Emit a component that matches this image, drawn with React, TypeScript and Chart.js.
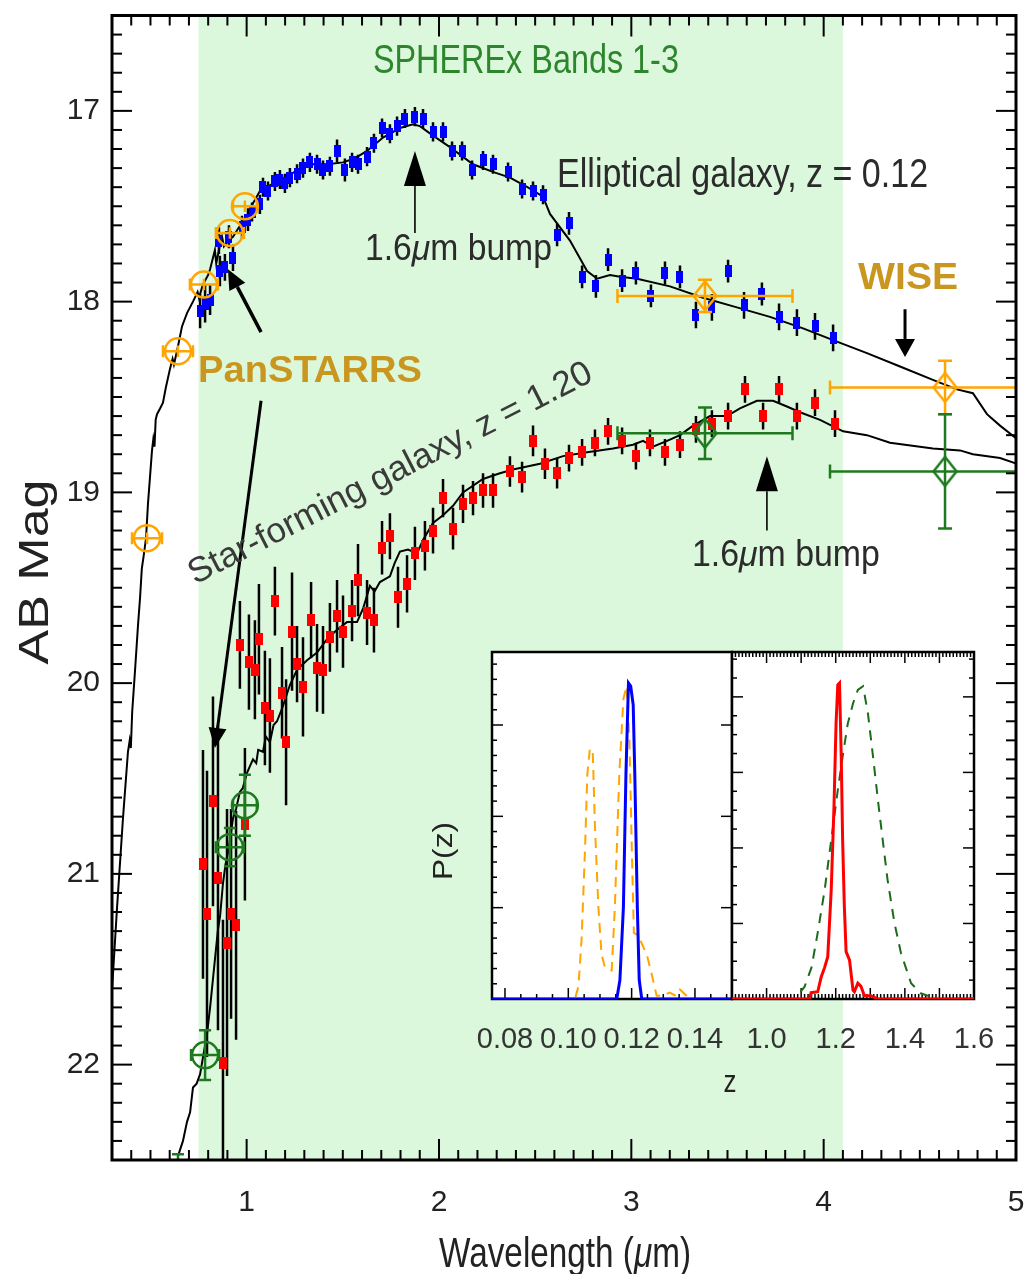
import React, { useEffect, useRef } from 'react';
import { Chart, registerables } from 'chart.js';

Chart.register(...registerables);

// ---------------------------------------------------------------- axes
const wavelengthTicks = [1, 2, 3, 4, 5];
const magnitudeTicks = [17, 18, 19, 20, 21, 22];
const sphereXRange = [0.75, 4.1];

// ---------------------------------------------------------------- model SEDs
const ellipticalModelLambda = [0.300, 0.326, 0.357, 0.383, 0.392, 0.398, 0.405, 0.420, 0.435, 0.446, 0.455, 0.465, 0.477, 0.487, 0.508, 0.515, 0.521, 0.527, 0.534, 0.550, 0.565, 0.580, 0.602, 0.615, 0.622, 0.640, 0.650, 0.664, 0.690, 0.721, 0.745, 0.752, 0.773, 0.800, 0.810, 0.825, 0.835, 0.842, 0.862, 0.872, 0.882, 0.905, 0.929, 0.960, 1.002, 1.030, 1.069, 1.158, 1.250, 1.329, 1.420, 1.501, 1.560, 1.626, 1.709, 1.797, 1.865, 1.901, 1.969, 2.057, 2.177, 2.280, 2.369, 2.460, 2.541, 2.577, 2.681, 2.770, 2.822, 2.889, 2.941, 3.030, 3.201, 3.373, 3.549, 3.721, 3.893, 4.069, 4.225, 4.397, 4.568, 4.693, 4.776, 4.849, 4.917, 5.005];
const ellipticalModelMag = [21.61, 21.18, 20.71, 20.36, 20.30, 20.34, 20.15, 19.93, 19.70, 19.55, 19.40, 19.33, 19.24, 19.06, 18.78, 18.72, 18.76, 18.62, 18.59, 18.56, 18.53, 18.45, 18.35, 18.30, 18.33, 18.25, 18.20, 18.13, 18.06, 18.00, 17.95, 17.98, 17.91, 17.86, 17.83, 17.77, 17.73, 17.80, 17.70, 17.66, 17.71, 17.68, 17.66, 17.61, 17.56, 17.49, 17.42, 17.37, 17.32, 17.28, 17.28, 17.27, 17.25, 17.21, 17.14, 17.09, 17.07, 17.08, 17.13, 17.19, 17.28, 17.32, 17.35, 17.40, 17.45, 17.54, 17.68, 17.84, 17.88, 17.86, 17.87, 17.88, 17.92, 17.98, 18.03, 18.08, 18.14, 18.21, 18.27, 18.34, 18.41, 18.46, 18.48, 18.59, 18.65, 18.72];

const starFormingModelLambda = [0.643, 0.669, 0.690, 0.706, 0.721, 0.740, 0.758, 0.775, 0.794, 0.810, 0.836, 0.850, 0.862, 0.877, 0.890, 0.905, 0.929, 0.945, 0.965, 0.980, 1.002, 1.015, 1.033, 1.050, 1.060, 1.085, 1.100, 1.121, 1.140, 1.158, 1.189, 1.225, 1.262, 1.314, 1.366, 1.418, 1.470, 1.522, 1.574, 1.605, 1.641, 1.665, 1.693, 1.745, 1.770, 1.797, 1.839, 1.886, 1.917, 1.969, 2.021, 2.073, 2.125, 2.229, 2.317, 2.385, 2.525, 2.645, 2.770, 2.905, 3.009, 3.061, 3.113, 3.186, 3.253, 3.321, 3.409, 3.497, 3.565, 3.653, 3.737, 3.809, 3.877, 3.981, 4.101, 4.225, 4.345, 4.568, 4.709, 4.776, 4.917, 5.005];
const starFormingModelMag = [22.48, 22.40, 22.30, 22.25, 22.12, 22.10, 22.05, 21.95, 21.84, 21.70, 21.44, 21.30, 21.22, 21.05, 20.95, 20.88, 20.71, 20.66, 20.57, 20.55, 20.47, 20.44, 20.40, 20.42, 20.35, 20.36, 20.28, 20.31, 20.22, 20.20, 20.12, 20.01, 19.93, 19.88, 19.84, 19.77, 19.72, 19.68, 19.68, 19.61, 19.49, 19.52, 19.47, 19.44, 19.37, 19.31, 19.30, 19.32, 19.25, 19.16, 19.12, 19.07, 19.00, 18.93, 18.90, 18.88, 18.85, 18.81, 18.79, 18.77, 18.75, 18.73, 18.76, 18.73, 18.70, 18.65, 18.60, 18.60, 18.56, 18.52, 18.52, 18.55, 18.58, 18.62, 18.68, 18.70, 18.74, 18.77, 18.78, 18.80, 18.82, 18.85];

// ---------------------------------------------------------------- SPHEREx photometry
const ellipticalLambda = [0.758, 0.784, 0.810, 0.856, 0.861, 0.887, 0.908, 0.929, 0.976, 1.007, 1.028, 1.069, 1.085, 1.111, 1.147, 1.173, 1.199, 1.225, 1.262, 1.293, 1.329, 1.366, 1.397, 1.433, 1.470, 1.511, 1.548, 1.579, 1.626, 1.662, 1.704, 1.745, 1.782, 1.823, 1.875, 1.917, 1.969, 2.021, 2.068, 2.120, 2.172, 2.229, 2.281, 2.359, 2.432, 2.489, 2.541, 2.614, 2.676, 2.744, 2.816, 2.879, 2.952, 3.024, 3.102, 3.175, 3.253, 3.336, 3.419, 3.503, 3.586, 3.679, 3.768, 3.861, 3.955, 4.049];
const ellipticalMag = [18.05, 18.01, 17.99, 17.68, 17.84, 17.82, 17.66, 17.77, 17.61, 17.57, 17.53, 17.49, 17.40, 17.42, 17.37, 17.36, 17.38, 17.35, 17.33, 17.30, 17.27, 17.28, 17.31, 17.29, 17.21, 17.31, 17.27, 17.28, 17.24, 17.17, 17.09, 17.12, 17.08, 17.04, 17.03, 17.04, 17.11, 17.11, 17.21, 17.21, 17.31, 17.26, 17.28, 17.32, 17.41, 17.42, 17.44, 17.65, 17.59, 17.87, 17.92, 17.78, 17.89, 17.85, 17.97, 17.85, 17.87, 18.07, 18.03, 17.84, 18.02, 17.96, 18.08, 18.11, 18.13, 18.19];
const ellipticalErr = [0.09, 0.10, 0.08, 0.07, 0.08, 0.07, 0.06, 0.07, 0.06, 0.06, 0.05, 0.05, 0.05, 0.05, 0.05, 0.05, 0.05, 0.05, 0.05, 0.05, 0.05, 0.05, 0.05, 0.05, 0.06, 0.06, 0.05, 0.05, 0.05, 0.05, 0.05, 0.05, 0.05, 0.05, 0.05, 0.05, 0.05, 0.05, 0.05, 0.05, 0.05, 0.05, 0.05, 0.05, 0.05, 0.05, 0.05, 0.06, 0.06, 0.06, 0.06, 0.06, 0.06, 0.06, 0.06, 0.06, 0.06, 0.07, 0.07, 0.06, 0.07, 0.06, 0.07, 0.07, 0.07, 0.07];

const starFormingLambda = [0.773, 0.794, 0.825, 0.851, 0.877, 0.898, 0.919, 0.945, 0.965, 0.991, 1.012, 1.043, 1.064, 1.095, 1.121, 1.147, 1.184, 1.205, 1.236, 1.262, 1.293, 1.335, 1.366, 1.397, 1.433, 1.470, 1.501, 1.548, 1.579, 1.626, 1.662, 1.704, 1.745, 1.787, 1.834, 1.875, 1.927, 1.969, 2.021, 2.073, 2.125, 2.177, 2.229, 2.281, 2.369, 2.432, 2.489, 2.551, 2.614, 2.676, 2.744, 2.811, 2.879, 2.952, 3.024, 3.097, 3.175, 3.253, 3.336, 3.419, 3.503, 3.591, 3.685, 3.768, 3.861, 3.955, 4.059];
const starFormingMag = [20.95, 21.21, 20.62, 21.02, 21.99, 21.36, 21.21, 21.27, 19.80, 20.74, 19.89, 19.93, 19.77, 20.13, 20.17, 19.57, 20.05, 20.31, 19.73, 19.90, 20.02, 19.67, 19.92, 19.93, 19.76, 19.65, 19.73, 19.62, 19.46, 19.63, 19.67, 19.29, 19.23, 19.55, 19.48, 19.32, 19.28, 19.20, 19.03, 19.19, 19.06, 19.03, 18.99, 18.99, 18.89, 18.92, 18.73, 18.85, 18.90, 18.82, 18.79, 18.74, 18.68, 18.73, 18.81, 18.74, 18.79, 18.75, 18.67, 18.64, 18.60, 18.46, 18.60, 18.46, 18.60, 18.53, 18.64];
const starFormingErr = [0.60, 0.75, 0.55, 0.80, 0.75, 0.70, 0.55, 0.60, 0.23, 0.40, 0.25, 0.26, 0.29, 0.30, 0.30, 0.18, 0.24, 0.33, 0.31, 0.20, 0.26, 0.20, 0.23, 0.23, 0.18, 0.19, 0.19, 0.16, 0.19, 0.17, 0.17, 0.14, 0.12, 0.16, 0.15, 0.14, 0.13, 0.12, 0.10, 0.11, 0.10, 0.09, 0.09, 0.09, 0.08, 0.08, 0.08, 0.08, 0.08, 0.07, 0.07, 0.07, 0.07, 0.07, 0.07, 0.07, 0.07, 0.07, 0.07, 0.07, 0.07, 0.07, 0.07, 0.07, 0.07, 0.07, 0.07];

// ---------------------------------------------------------------- PanSTARRS and WISE photometry
const panstarrsEllLambda = [0.482, 0.643, 0.778, 0.913, 0.991];
const panstarrsEllMag = [19.24, 18.26, 17.91, 17.64, 17.50];
const panstarrsEllLambdaErr = [0.078, 0.078, 0.073, 0.073, 0.062];
const panstarrsEllMagErr = [0.03, 0.03, 0.03, 0.03, 0.03];

const panstarrsSfLambda = [0.643, 0.784, 0.913, 0.991];
const panstarrsSfMag = [22.95, 21.95, 20.86, 20.64];
const panstarrsSfLambdaErr = [0.078, 0.073, 0.073, 0.062];
const panstarrsSfMagErr = [0.48, 0.13, 0.10, 0.16];

const wiseLambda = [3.383, 4.631];
const wiseLambdaErr = [0.455, 0.598];
const wiseEllMag = [17.97, 18.45];
const wiseEllErr = [0.085, 0.14];
const wiseSfMag = [18.69, 18.89];
const wiseSfErr = [0.135, 0.30];

// ---------------------------------------------------------------- redshift PDFs (inset)
const ellZTicks = [0.08, 0.10, 0.12, 0.14];
const sfZTicks = [1.0, 1.2, 1.4, 1.6];

const ellSpherexZ = [0.0759, 0.1153, 0.1163, 0.1174, 0.1182, 0.1190, 0.1197, 0.1205, 0.1210, 0.1218, 0.1224, 0.1232, 0.1517];
const ellSpherexP = [0, 0, 0.06, 0.29, 0.71, 1.0, 0.99, 0.93, 0.71, 0.29, 0.06, 0, 0];
const ellBroadbandZ = [0.0759, 0.1021, 0.1032, 0.1042, 0.1053, 0.1060, 0.1068, 0.1077, 0.1084, 0.1095, 0.1105, 0.1116, 0.1137, 0.1147, 0.1161, 0.1174, 0.1184, 0.1193, 0.1200, 0.1207, 0.1221, 0.1248, 0.1263, 0.1279, 0.1295, 0.1320, 0.1340, 0.1353, 0.1384, 0.1517];
const ellBroadbandP = [0, 0, 0.04, 0.19, 0.48, 0.71, 0.79, 0.79, 0.55, 0.29, 0.14, 0.10, 0.09, 0.29, 0.71, 0.95, 0.99, 0.82, 0.50, 0.21, 0.20, 0.14, 0.08, 0.01, 0.01, 0.02, 0.01, 0.03, 0, 0];

const sfSpherexZ = [0.9, 1.124, 1.129, 1.148, 1.158, 1.168, 1.177, 1.187, 1.195, 1.201, 1.206, 1.211, 1.216, 1.220, 1.225, 1.230, 1.240, 1.250, 1.254, 1.264, 1.273, 1.283, 1.302, 1.322, 1.6];
const sfSpherexP = [0, 0, 0.02, 0.023, 0.07, 0.10, 0.134, 0.345, 0.609, 0.872, 0.994, 1.0, 0.767, 0.503, 0.292, 0.15, 0.123, 0.028, 0.023, 0.05, 0.04, 0.01, 0.01, 0, 0];
const sfBroadbandZ = [0.9, 1.082, 1.110, 1.130, 1.148, 1.168, 1.187, 1.206, 1.220, 1.235, 1.250, 1.264, 1.279, 1.293, 1.308, 1.322, 1.336, 1.350, 1.370, 1.389, 1.418, 1.446, 1.475, 1.494, 1.6];
const sfBroadbandP = [0, 0, 0.039, 0.10, 0.21, 0.345, 0.503, 0.661, 0.767, 0.872, 0.935, 0.978, 0.99, 0.905, 0.767, 0.63, 0.503, 0.377, 0.24, 0.144, 0.05, 0.018, 0.007, 0, 0];

// ---------------------------------------------------------------- styling
const FONT = "'Liberation Sans', Arial, Helvetica, sans-serif";
const BAND_GREEN = '#dcf8dc';
const ORANGE = '#ffa500';
const DARK_GREEN = '#1f7a1f';
const GOLD = '#c9971f';
const TEXT_GRAY = '#2b2b2b';

const toPoints = (xs: number[], ys: number[]) => xs.map((x, i) => ({ x, y: ys[i] }));

function solidRect(w: number, h: number, color: string) {
  const c = document.createElement('canvas');
  c.width = w;
  c.height = h;
  const g = c.getContext('2d')!;
  g.fillStyle = color;
  g.fillRect(0, 0, w, h);
  return c;
}

function openDiamond(w: number, h: number, color: string, lw: number) {
  const c = document.createElement('canvas');
  c.width = w;
  c.height = h;
  const g = c.getContext('2d')!;
  g.strokeStyle = color;
  g.lineWidth = lw;
  const m = lw;
  g.beginPath();
  g.moveTo(w / 2, m);
  g.lineTo(w - m, h / 2);
  g.lineTo(w / 2, h - m);
  g.lineTo(m, h / 2);
  g.closePath();
  g.stroke();
  return c;
}

type Part = { t: string; italic?: boolean };
type TextOpts = { size: number; width?: number; weight?: string; color: string; align?: 'left' | 'center' | 'right'; angle?: number };

// Draws a run of text whose baseline starts/centres at (x, y); when a width is
// given the run is squeezed horizontally to that width.
function drawText(ctx: CanvasRenderingContext2D, parts: Part[] | string, x: number, y: number, o: TextOpts) {
  const ps: Part[] = typeof parts === 'string' ? [{ t: parts }] : parts;
  const fontOf = (p: Part) => `${p.italic ? 'italic ' : ''}${o.weight || 'normal'} ${o.size}px ${FONT}`;
  let total = 0;
  const ws = ps.map((p) => {
    ctx.font = fontOf(p);
    const w = ctx.measureText(p.t).width;
    total += w;
    return w;
  });
  const sx = o.width ? o.width / total : 1;
  ctx.save();
  ctx.translate(x, y);
  if (o.angle) ctx.rotate(o.angle);
  ctx.scale(sx, 1);
  ctx.fillStyle = o.color;
  ctx.textAlign = 'left';
  ctx.textBaseline = 'alphabetic';
  let cx = o.align === 'center' ? -total / 2 : o.align === 'right' ? -total : 0;
  ps.forEach((p, i) => {
    ctx.font = fontOf(p);
    ctx.fillText(p.t, cx, 0);
    cx += ws[i];
  });
  ctx.restore();
}

function drawArrow(ctx: CanvasRenderingContext2D, x1: number, y1: number, x2: number, y2: number, headLen: number, headHalf: number, lw: number) {
  const ang = Math.atan2(y2 - y1, x2 - x1);
  const bx = x2 - headLen * Math.cos(ang);
  const by = y2 - headLen * Math.sin(ang);
  ctx.lineWidth = lw;
  ctx.beginPath();
  ctx.moveTo(x1, y1);
  ctx.lineTo(bx, by);
  ctx.stroke();
  ctx.beginPath();
  ctx.moveTo(x2, y2);
  ctx.lineTo(bx + headHalf * Math.sin(ang), by - headHalf * Math.cos(ang));
  ctx.lineTo(bx - headHalf * Math.sin(ang), by + headHalf * Math.cos(ang));
  ctx.closePath();
  ctx.fill();
}

function seg(ctx: CanvasRenderingContext2D, x1: number, y1: number, x2: number, y2: number) {
  ctx.beginPath();
  ctx.moveTo(x1, y1);
  ctx.lineTo(x2, y2);
  ctx.stroke();
}

// ---------------------------------------------------------------- main SED plot decorations
const sedPlugin = {
  id: 'sedDecor',
  beforeDatasetsDraw(chart: any) {
    const { ctx, chartArea: a, scales } = chart;
    const x0 = scales.x.getPixelForValue(sphereXRange[0]);
    const x1 = scales.x.getPixelForValue(sphereXRange[1]);
    ctx.save();
    ctx.fillStyle = BAND_GREEN;
    ctx.fillRect(x0, a.top, x1 - x0, a.height);
    ctx.restore();
  },
  // error bars go underneath each dataset's markers
  beforeDatasetDraw(chart: any, args: any) {
    const ds = chart.data.datasets[args.index];
    const eb = ds.errorBars;
    if (!eb) return;
    const { ctx, chartArea: a, scales } = chart;
    const X = (v: number) => scales.x.getPixelForValue(v);
    const Y = (v: number) => scales.y.getPixelForValue(v);
    ctx.save();
    ctx.beginPath();
    ctx.rect(a.left, a.top, a.width, a.height);
    ctx.clip();
    ctx.strokeStyle = eb.color;
    ctx.lineWidth = eb.width;
    ds.data.forEach((p: any, i: number) => {
      const px = X(p.x);
      const py = Y(p.y);
      if (eb.y) {
        const y1 = Y(p.y - eb.y[i]);
        const y2 = Y(p.y + eb.y[i]);
        seg(ctx, px, y1, px, y2);
        if (eb.capY) {
          seg(ctx, px - eb.capY, y1, px + eb.capY, y1);
          seg(ctx, px - eb.capY, y2, px + eb.capY, y2);
        }
      }
      if (eb.x) {
        const x1 = X(p.x - eb.x[i]);
        const x2 = X(p.x + eb.x[i]);
        seg(ctx, x1, py, x2, py);
        if (eb.capX) {
          seg(ctx, x1, py - eb.capX, x1, py + eb.capX);
          seg(ctx, x2, py - eb.capX, x2, py + eb.capX);
        }
      }
    });
    ctx.restore();
  },
  afterDatasetsDraw(chart: any) {
    const { ctx, scales } = chart;
    const X = (v: number) => scales.x.getPixelForValue(v);
    const Y = (v: number) => scales.y.getPixelForValue(v);
    ctx.save();
    ctx.fillStyle = '#000';
    ctx.strokeStyle = '#000';
    drawArrow(ctx, X(1.875), Y(17.64), X(1.875), Y(17.21), 35, 11, 1.6);
    drawArrow(ctx, X(3.705), Y(19.20), X(3.705), Y(18.81), 35, 11, 1.6);
    drawArrow(ctx, X(4.423), Y(18.04), X(4.423), Y(18.29), 18, 10, 3);
    drawArrow(ctx, X(1.075), Y(18.16), X(0.903), Y(17.83), 20, 9, 3.5);
    drawArrow(ctx, X(1.075), Y(18.52), X(0.835), Y(20.34), 20, 9, 3);
    ctx.restore();

    const bump: Part[] = [{ t: '1.6' }, { t: 'μ', italic: true }, { t: 'm bump' }];
    drawText(ctx, 'SPHEREx Bands 1-3', X(2.452), Y(16.80), { size: 41.5, width: 306, color: '#2d862d', align: 'center' });
    drawText(ctx, 'Elliptical galaxy, z = 0.12', X(2.614), Y(17.40), { size: 40, width: 371, color: TEXT_GRAY });
    drawText(ctx, bump, X(1.615), Y(17.78), { size: 36, width: 187, color: TEXT_GRAY });
    drawText(ctx, bump, X(3.315), Y(19.385), { size: 36, width: 188, color: TEXT_GRAY });
    drawText(ctx, 'WISE', X(4.179), Y(17.935), { size: 37.5, width: 100, weight: 'bold', color: GOLD });
    drawText(ctx, 'PanSTARRS', X(0.747), Y(18.42), { size: 36, width: 224, weight: 'bold', color: GOLD });
    drawText(ctx, 'Star-forming galaxy, z = 1.20', X(0.732), Y(19.484), { size: 35, width: 449, color: '#3a3a3a', angle: (-27.1 * Math.PI) / 180 });
  },
  afterDraw(chart: any) {
    const { ctx, chartArea: a, scales } = chart;
    ctx.save();
    ctx.strokeStyle = '#000';
    ctx.lineWidth = 2;
    for (let k = 3; k <= 50; k++) {
      const px = scales.x.getPixelForValue(k / 10);
      const L = k % 10 === 0 ? 21 : 10;
      seg(ctx, px, a.bottom, px, a.bottom - L);
      seg(ctx, px, a.top, px, a.top + L);
    }
    for (let k = 165; k <= 225; k++) {
      const py = scales.y.getPixelForValue(k / 10);
      const L = k % 10 === 0 ? 20 : 10;
      seg(ctx, a.left, py, a.left + L, py);
      seg(ctx, a.right, py, a.right - L, py);
    }
    ctx.lineWidth = 3;
    ctx.strokeRect(a.left, a.top, a.width, a.height);
    ctx.restore();

    drawText(ctx, 'AB Mag', 48, 572, { size: 42, width: 185, color: '#222', align: 'center', angle: -Math.PI / 2 });
    drawText(ctx, [{ t: 'Wavelength (' }, { t: 'μ', italic: true }, { t: 'm)' }], 565, 1267, { size: 42, width: 252, color: '#222', align: 'center' });
  },
};

function buildMain(canvas: HTMLCanvasElement) {
  const datasets: any[] = [
    { label: 'Elliptical template', data: toPoints(ellipticalModelLambda, ellipticalModelMag), showLine: true, borderColor: '#000', borderWidth: 2, pointRadius: 0 },
    { label: 'Star-forming template', data: toPoints(starFormingModelLambda, starFormingModelMag), showLine: true, borderColor: '#000', borderWidth: 2, pointRadius: 0 },
    { label: 'Star-forming SPHEREx', data: toPoints(starFormingLambda, starFormingMag), pointStyle: solidRect(8, 12, '#ff0000'), pointRadius: 5, errorBars: { y: starFormingErr, color: '#000', width: 2.5 } },
    { label: 'Elliptical SPHEREx', data: toPoints(ellipticalLambda, ellipticalMag), pointStyle: solidRect(7, 12, '#0000ff'), pointRadius: 5, errorBars: { y: ellipticalErr, color: '#000', width: 2.5 } },
    { label: 'PanSTARRS star-forming', data: toPoints(panstarrsSfLambda, panstarrsSfMag), pointStyle: 'circle', pointRadius: 13, pointBorderWidth: 2.5, pointBorderColor: DARK_GREEN, pointBackgroundColor: 'rgba(0,0,0,0)', errorBars: { x: panstarrsSfLambdaErr, y: panstarrsSfMagErr, color: DARK_GREEN, width: 2.5, capX: 6, capY: 6 } },
    { label: 'PanSTARRS elliptical', data: toPoints(panstarrsEllLambda, panstarrsEllMag), pointStyle: 'circle', pointRadius: 13, pointBorderWidth: 2.5, pointBorderColor: ORANGE, pointBackgroundColor: 'rgba(0,0,0,0)', errorBars: { x: panstarrsEllLambdaErr, y: panstarrsEllMagErr, color: ORANGE, width: 2.5, capX: 6 } },
    { label: 'WISE elliptical', data: toPoints(wiseLambda, wiseEllMag), pointStyle: openDiamond(28, 34, ORANGE, 2.5), pointRadius: 5, errorBars: { x: wiseLambdaErr, y: wiseEllErr, color: ORANGE, width: 2.5, capX: 7, capY: 7 } },
    { label: 'WISE star-forming', data: toPoints(wiseLambda, wiseSfMag), pointStyle: openDiamond(28, 34, DARK_GREEN, 2.5), pointRadius: 5, errorBars: { x: wiseLambdaErr, y: wiseSfErr, color: DARK_GREEN, width: 2.5, capX: 7, capY: 7 } },
  ];
  datasets.forEach((d, i) => (d.order = datasets.length - i));

  return new Chart(canvas, {
    type: 'scatter',
    data: { datasets },
    options: {
      animation: false,
      responsive: false,
      devicePixelRatio: 1,
      events: [],
      layout: { padding: { top: 10, right: 18, left: 0, bottom: 0 } },
      plugins: { legend: { display: false }, tooltip: { enabled: false } },
      scales: {
        x: {
          type: 'linear',
          min: 0.3,
          max: 5,
          grid: { display: false, drawTicks: false },
          border: { display: false },
          afterBuildTicks: (s: any) => { s.ticks = wavelengthTicks.map((v) => ({ value: v })); },
          afterFit: (s: any) => { s.height = 114; s.paddingLeft = 0; s.paddingRight = 0; },
          ticks: { font: { family: FONT, size: 30 }, color: '#222', padding: 25, maxRotation: 0, autoSkip: false, callback: (v: any) => String(v) },
        },
        y: {
          type: 'linear',
          reverse: true,
          min: 16.5,
          max: 22.5,
          grid: { display: false, drawTicks: false },
          border: { display: false },
          afterBuildTicks: (s: any) => { s.ticks = magnitudeTicks.map((v) => ({ value: v })); },
          afterFit: (s: any) => { s.width = 112; s.paddingTop = 0; s.paddingBottom = 0; },
          ticks: { font: { family: FONT, size: 30 }, color: '#222', padding: 12, autoSkip: false, callback: (v: any) => String(v) },
        },
      },
    } as any,
    plugins: [sedPlugin],
  });
}

// ---------------------------------------------------------------- inset P(z) panels
type Series = { z: number[]; p: number[]; color: string; width: number; dash: number[] };
type TickSpec = { step: number; every: number } | null;
type InsetCfg = {
  xMin: number; xMax: number; xTicks: number[]; decimals: number;
  padLeft: number; padRight: number; series: Series[];
  bottom: TickSpec; top: TickSpec; left: TickSpec; right: TickSpec;
  label: 'pz' | 'z';
};

function buildInset(canvas: HTMLCanvasElement, cfg: InsetCfg) {
  const plugin = {
    id: 'insetFrame',
    beforeDatasetsDraw(chart: any) {
      const { ctx, chartArea: a, scales } = chart;
      ctx.save();
      ctx.fillStyle = '#fff';
      ctx.fillRect(a.left, a.top, a.width, a.height);
      ctx.strokeStyle = '#000';
      ctx.lineWidth = 1.5;
      const xt = (spec: TickSpec, edge: number, dir: number) => {
        if (!spec) return;
        const k0 = Math.ceil(scales.x.min / spec.step - 1e-6);
        const k1 = Math.floor(scales.x.max / spec.step + 1e-6);
        for (let k = k0; k <= k1; k++) {
          const px = scales.x.getPixelForValue(k * spec.step);
          const L = k % spec.every === 0 ? 11 : 5;
          seg(ctx, px, edge, px, edge + dir * L);
        }
      };
      const yt = (spec: TickSpec, edge: number, dir: number) => {
        if (!spec) return;
        const k1 = Math.floor(scales.y.max / spec.step + 1e-6);
        for (let k = 1; k <= k1; k++) {
          const py = scales.y.getPixelForValue(k * spec.step);
          const L = k % spec.every === 0 ? 11 : 5;
          seg(ctx, edge, py, edge + dir * L, py);
        }
      };
      xt(cfg.bottom, a.bottom, -1);
      xt(cfg.top, a.top, 1);
      yt(cfg.left, a.left, 1);
      yt(cfg.right, a.right, -1);
      ctx.lineWidth = 2.5;
      ctx.strokeRect(a.left, a.top, a.width, a.height);
      ctx.restore();
    },
    afterDraw(chart: any) {
      const { ctx, chartArea: a } = chart;
      if (cfg.label === 'pz') {
        drawText(ctx, 'P(z)', a.left - 40, a.top + 199, { size: 27, width: 58, color: '#222', align: 'center', angle: -Math.PI / 2 });
      } else {
        drawText(ctx, 'z', a.left - 2, a.bottom + 93, { size: 32, width: 13, color: '#222', align: 'center' });
      }
    },
  };

  const datasets: any[] = cfg.series.map((s, i) => ({
    data: toPoints(s.z, s.p),
    showLine: true,
    borderColor: s.color,
    borderWidth: s.width,
    borderDash: s.dash,
    pointRadius: 0,
    order: cfg.series.length - i,
  }));

  return new Chart(canvas, {
    type: 'scatter',
    data: { datasets },
    options: {
      animation: false,
      responsive: false,
      devicePixelRatio: 1,
      events: [],
      layout: { padding: { left: cfg.padLeft, right: cfg.padRight, top: 12, bottom: 0 } },
      plugins: { legend: { display: false }, tooltip: { enabled: false } },
      scales: {
        x: {
          type: 'linear',
          min: cfg.xMin,
          max: cfg.xMax,
          grid: { display: false, drawTicks: false },
          border: { display: false },
          afterBuildTicks: (s: any) => { s.ticks = cfg.xTicks.map((v) => ({ value: v })); },
          afterFit: (s: any) => { s.height = 101; s.paddingLeft = 0; s.paddingRight = 0; },
          ticks: { font: { family: FONT, size: 29 }, color: '#333', padding: 24, maxRotation: 0, autoSkip: false, callback: (v: any) => Number(v).toFixed(cfg.decimals) },
        },
        y: { type: 'linear', display: false, min: 0, max: 1.098 },
      },
    } as any,
    plugins: [plugin],
  });
}

export default function App() {
  const mainRef = useRef<HTMLCanvasElement>(null);
  const leftRef = useRef<HTMLCanvasElement>(null);
  const rightRef = useRef<HTMLCanvasElement>(null);

  useEffect(() => {
    const charts = [
      buildMain(mainRef.current!),
      buildInset(leftRef.current!, {
        xMin: 0.0759, xMax: 0.1517, xTicks: ellZTicks, decimals: 2, padLeft: 72, padRight: 1,
        series: [
          { z: ellBroadbandZ, p: ellBroadbandP, color: ORANGE, width: 2, dash: [10, 7] },
          { z: ellSpherexZ, p: ellSpherexP, color: '#0000ff', width: 3, dash: [] },
        ],
        bottom: { step: 0.005, every: 4 }, top: null,
        left: { step: 0.289 / 6, every: 6 }, right: { step: 0.289, every: 1 },
        label: 'pz',
      }),
      buildInset(rightRef.current!, {
        xMin: 0.9, xMax: 1.6, xTicks: sfZTicks, decimals: 1, padLeft: 32, padRight: 26,
        series: [
          { z: sfBroadbandZ, p: sfBroadbandP, color: '#1a6b1a', width: 2, dash: [10, 8] },
          { z: sfSpherexZ, p: sfSpherexP, color: '#ff0000', width: 3, dash: [] },
        ],
        bottom: { step: 0.01, every: 10 }, top: { step: 0.01, every: 10 },
        left: { step: 0.239 / 4, every: 4 }, right: { step: 0.239 / 4, every: 4 },
        label: 'z',
      }),
    ];
    return () => charts.forEach((c) => c.destroy());
  }, []);

  return (
    <div style={{ position: 'absolute', left: 0, top: 0, width: 1034, height: 1274, background: '#fff', overflow: 'hidden' }}>
      <canvas ref={mainRef} width={1034} height={1274} style={{ position: 'absolute', left: 0, top: 0 }} />
      <canvas ref={leftRef} width={313} height={460} style={{ position: 'absolute', left: 420, top: 640 }} />
      <canvas ref={rightRef} width={300} height={460} style={{ position: 'absolute', left: 700, top: 640 }} />
    </div>
  );
}
